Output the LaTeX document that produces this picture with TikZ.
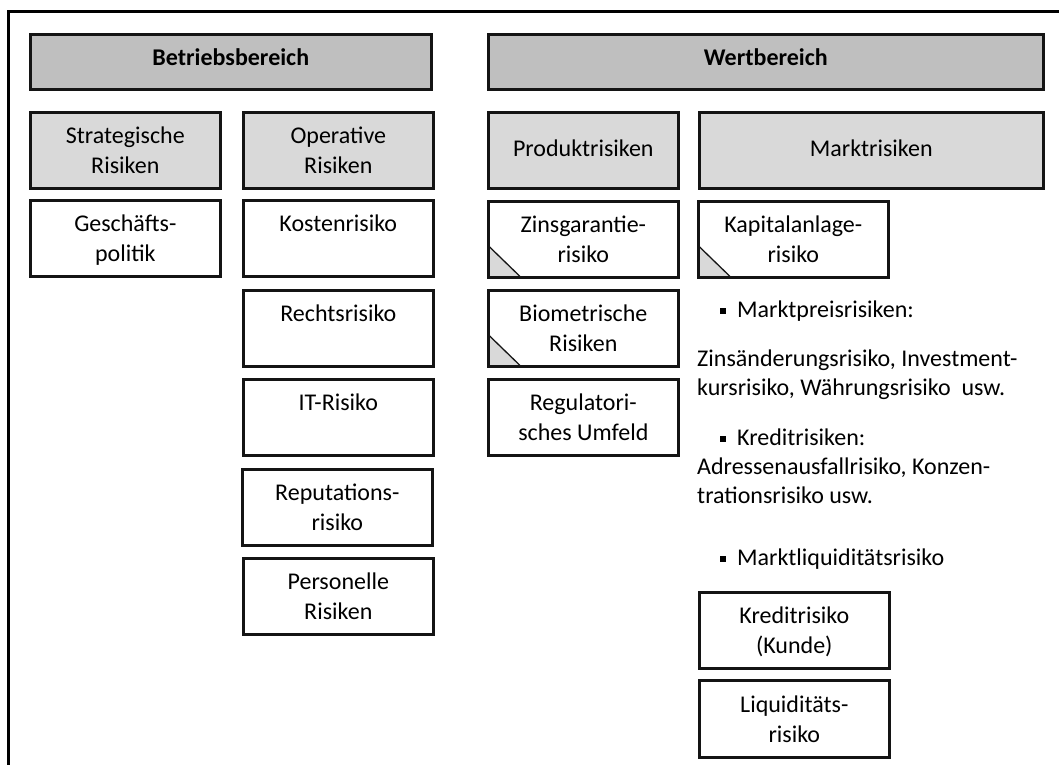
\documentclass[tikz,border=0pt]{standalone}
\usepackage{fontspec}
\setmainfont{Carlito}

\definecolor{headgray}{HTML}{BFBFBF}
\definecolor{subgray}{HTML}{D9D9D9}
\definecolor{edge}{HTML}{141414}
\newcommand\sqbul{\rule[0.12em]{0.25em}{0.25em}}

\tikzset{
  box/.style={draw=edge, line width=2.6pt, anchor=north west, align=center,
    minimum width=190pt, minimum height=76.4pt, inner sep=0pt,
    text height=46pt, text depth=0pt, font=\fontsize{24}{30}\selectfont},
  oneline/.style={text height=20pt, text depth=8pt},
  head/.style={box, text height=18pt, text depth=12pt, fill=headgray,
    minimum height=55.4pt, font=\fontsize{24}{30}\selectfont\bfseries},
  sub/.style={box, fill=subgray},
  fold/.style={path picture={\filldraw[fill=subgray, draw=edge, line width=1.3pt]
    (path picture bounding box.south west) -- ++(0,-32) -- ++(33,32) -- cycle;}},
  txt/.style={anchor=base west, inner sep=0pt, font=\fontsize{24}{30}\selectfont},
}

\begin{document}
\begin{tikzpicture}[x=1pt, y=-1pt]
    \useasboundingbox (0,0) rectangle (1059,764);
    \clip (0,0) rectangle (1059,764);
    \draw[line width=3.5pt] (8.5,11.5) rectangle (1100,800);

    % headers
    \node[head, minimum width=401pt] (betrieb) at (29,33) {Betriebsbereich};
    \node[head, minimum width=555pt] (wert) at (487,33) {Wertbereich};

    \node[sub] (strat) at (29,111) {Strategische\\Risiken};
    \node[sub] (oper) at (242,111) {Operative\\Risiken};
    \node[sub, oneline] (produkt) at (487,111) {Produktrisiken};
    \node[sub, oneline, minimum width=344pt] (markt) at (698,111) {Marktrisiken};

    % Betriebsbereich
    \node[box] (gesch) at (29,199) {Geschäfts-\\politik};
    \node[box] (kosten) at (242,199) {Kostenrisiko\\\mbox{}};
    \node[box] (recht) at (242,289) {Rechtsrisiko\\\mbox{}};
    \node[box] (it) at (242,378) {IT-Risiko\\\mbox{}};
    \node[box] (reput) at (241,468) {Reputations-\\risiko};
    \node[box] (person) at (242,557) {Personelle\\Risiken};

    % Wertbereich
    \node[box, fold] (zins) at (487,200) {Zinsgarantie-\\risiko};
    \node[box, fold] (bio) at (487,289) {Biometrische\\Risiken};
    \node[box] (regul) at (487,378) {Regulatori-\\sches Umfeld};
    \node[box, fold] (kapital) at (697,200) {Kapitalanlage-\\risiko};

    \node[txt] (mpreis) at (720,317) {\sqbul\hspace{11pt}Marktpreisrisiken:};
    \node[txt] (mpreisa) at (697,366) {Zinsänderungsrisiko, Investment-};
    \node[txt] (mpreisb) at (697,395) {kursrisiko, Währungsrisiko\ \ usw.};
    \node[txt] (kredit) at (720,445) {\sqbul\hspace{11pt}Kreditrisiken:};
    \node[txt] (kredita) at (697,474) {Adressenausfallrisiko, Konzen-};
    \node[txt] (kreditb) at (697,503) {trationsrisiko usw.};
    \node[txt] (mliq) at (720,565) {\sqbul\hspace{11pt}Marktliquiditätsrisiko};

    \node[box] (kunde) at (698,591) {Kreditrisiko\\(Kunde)};
    \node[box, minimum height=77.4pt] (liquid) at (698,679) {Liquiditäts-\\risiko};
\end{tikzpicture}
\end{document}
